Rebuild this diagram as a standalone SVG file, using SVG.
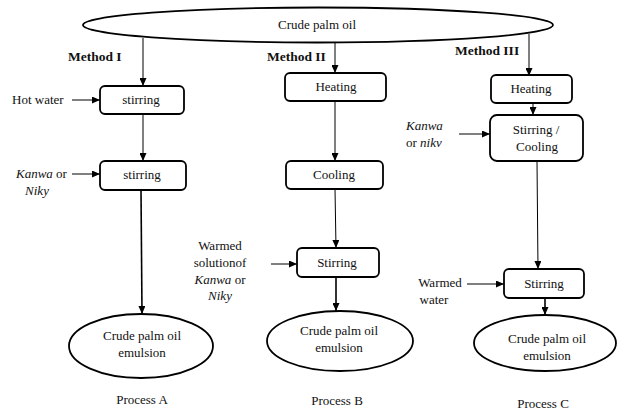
<svg xmlns="http://www.w3.org/2000/svg" width="617" height="412" viewBox="0 0 617 412">
<style>
text{font-family:'Liberation Serif','Times New Roman','DejaVu Serif',serif;font-size:13px;fill:#111}
.c{text-anchor:middle}
.b{font-weight:bold;font-size:13.5px}
.i{font-style:italic}
.box{fill:#fff;stroke:#000;stroke-width:1.8}
.ell{fill:#fff;stroke:#000;stroke-width:1.8}
.ln{stroke:#000;stroke-width:1;fill:none;marker-end:url(#ah)}
.lnb{stroke:#000;stroke-width:1.6;fill:none;marker-end:url(#ah)}
</style>
<defs>
<marker id="ah" markerUnits="userSpaceOnUse" markerWidth="8" markerHeight="7" refX="8" refY="3.5" orient="auto">
<path d="M0,0 L8,3.5 L0,7 z" fill="#000"/>
</marker>
</defs>
<rect width="617" height="412" fill="#fff"/>

<g id="connectors">
<line class="ln" x1="143" y1="38" x2="143" y2="86"/>
<line class="ln" x1="335" y1="42" x2="335" y2="73"/>
<line class="ln" x1="529" y1="34" x2="529" y2="76"/>
<line class="ln" x1="72" y1="100" x2="100" y2="100"/>
<line class="ln" x1="143" y1="114" x2="143" y2="161"/>
<line class="ln" x1="72" y1="174" x2="100" y2="174"/>
<line class="lnb" x1="141" y1="190" x2="142" y2="314"/>
<line class="ln" x1="335" y1="101" x2="335" y2="161"/>
<line class="ln" x1="335" y1="189" x2="336" y2="248"/>
<line class="ln" x1="271" y1="264" x2="297" y2="264"/>
<line class="lnb" x1="336" y1="277" x2="336" y2="311"/>
<line class="ln" x1="533" y1="103" x2="533" y2="115"/>
<line class="ln" x1="459" y1="134" x2="490" y2="134"/>
<line class="ln" x1="537" y1="161" x2="538" y2="269"/>
<line class="ln" x1="467" y1="284" x2="504" y2="284"/>
<line class="lnb" x1="545" y1="298" x2="545" y2="315"/>
</g>

<g id="crude-palm-oil">
<ellipse class="ell" cx="318" cy="25" rx="235" ry="17.5"/>
<text class="c" x="317" y="29">Crude palm oil</text>
</g>

<g id="method-labels">
<text class="b" x="68" y="61">Method I</text>
<text class="b" x="267" y="61">Method II</text>
<text class="b" x="455" y="55">Method III</text>
</g>

<g id="a-stirring1">
<rect class="box" x="100" y="86" width="84" height="28" rx="5"/>
<text class="c" x="141" y="104">stirring</text>
</g>
<g id="a-hotwater">
<text x="12" y="104">Hot water</text>
</g>
<g id="a-stirring2">
<rect class="box" x="100" y="161" width="86" height="29" rx="5"/>
<text class="c" x="142" y="179">stirring</text>
</g>
<g id="a-kanwa">
<text x="16" y="178"><tspan class="i">Kanwa</tspan> or</text>
<text class="c i" x="37" y="195">Niky</text>
</g>
<g id="a-emulsion">
<ellipse class="ell" cx="141" cy="346" rx="72" ry="32"/>
<text class="c" x="142" y="340">Crude palm oil</text>
<text class="c" x="142" y="357">emulsion</text>
</g>
<g id="a-label"><text class="c" x="142" y="404">Process A</text></g>

<g id="b-heating">
<rect class="box" x="285" y="73" width="101" height="28" rx="5"/>
<text class="c" x="336" y="91">Heating</text>
</g>
<g id="b-cooling">
<rect class="box" x="286" y="161" width="97" height="28" rx="5"/>
<text class="c" x="334" y="179">Cooling</text>
</g>
<g id="b-input">
<text class="c" x="220" y="250">Warmed</text>
<text class="c" x="220" y="267">solutionof</text>
<text class="c" x="220" y="284"><tspan class="i">Kanwa</tspan> or</text>
<text class="c i" x="220" y="300">Niky</text>
</g>
<g id="b-stirring">
<rect class="box" x="297" y="248" width="82" height="29" rx="5"/>
<text class="c" x="337" y="267">Stirring</text>
</g>
<g id="b-emulsion">
<ellipse class="ell" cx="340" cy="341" rx="73" ry="30"/>
<text class="c" x="339" y="335">Crude palm oil</text>
<text class="c" x="339" y="352">emulsion</text>
</g>
<g id="b-label"><text class="c" x="337" y="405">Process B</text></g>

<g id="c-heating">
<rect class="box" x="491" y="75" width="81" height="28" rx="5"/>
<text class="c" x="531" y="93">Heating</text>
</g>
<g id="c-input1">
<text class="i" x="406" y="130">Kanwa</text>
<text x="406" y="147">or <tspan class="i">nikv</tspan></text>
</g>
<g id="c-stircool">
<rect class="box" x="490" y="115" width="93" height="46" rx="7"/>
<text class="c" x="536" y="134">Stirring /</text>
<text class="c" x="537" y="151">Cooling</text>
</g>
<g id="c-input2">
<text class="c" x="440" y="287">Warmed</text>
<text class="c" x="434" y="304">water</text>
</g>
<g id="c-stirring">
<rect class="box" x="504" y="269" width="80" height="29" rx="5"/>
<text class="c" x="544" y="288">Stirring</text>
</g>
<g id="c-emulsion">
<ellipse class="ell" cx="545" cy="343" rx="71" ry="28"/>
<text class="c" x="547" y="343">Crude palm oil</text>
<text class="c" x="547" y="360">emulsion</text>
</g>
<g id="c-label"><text class="c" x="543" y="408">Process C</text></g>
</svg>
